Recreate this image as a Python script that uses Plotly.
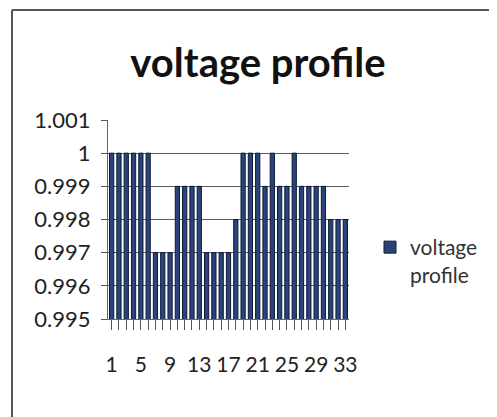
import plotly.graph_objects as go

bus = list(range(1, 34))
voltage = [1.000, 1.000, 1.000, 1.000, 1.000, 1.000,
           0.997, 0.997, 0.997,
           0.999, 0.999, 0.999, 0.999,
           0.997, 0.997, 0.997, 0.997,
           0.998,
           1.000, 1.000, 1.000,
           0.999,
           1.000,
           0.999, 0.999,
           1.000,
           0.999, 0.999, 0.999, 0.999,
           0.998, 0.998, 0.998]
x_ticktext = [str(b) if (b - 1) % 4 == 0 else "" for b in bus]
y_tickvals = [0.995, 0.996, 0.997, 0.998, 0.999, 1.000, 1.001]
y_ticktext = ["0.995", "0.996", "0.997", "0.998", "0.999", "1", "1.001"]
series_name = "voltage<br>profile"
title_text = "voltage profile"

W, H = 497, 417
OFF = 8  # default page body margin
# target plot area on screen: x 108..349, y 120..319
L = 108 - OFF
T = 120 - OFF
R = OFF + W - 349
B = OFF + H - 319
pw, ph = W - L - R, H - T - B


def px_to_paper_x(px):
    return (px - OFF - L) / pw


def px_to_paper_y(py):
    return (H - B - (py - OFF)) / ph


FONT = "Lato"

fig = go.Figure()
fig.add_trace(go.Bar(
    x=bus, y=voltage, name=series_name,
    marker=dict(color="#2a4479", line=dict(color="#0d1a3a", width=1)),
    showlegend=True,
))

fig.update_layout(
    width=W, height=H,
    margin=dict(l=L, r=R, t=T, b=B),
    paper_bgcolor="white", plot_bgcolor="white",
    bargap=0.42,
    title=dict(text="<b>" + title_text + "</b>", x=(258 - OFF) / W, xanchor="center",
               y=1 - (63 - OFF) / H, yanchor="middle",
               font=dict(family=FONT, size=40, color="#111111")),
    font=dict(family=FONT, color="#222222"),
    showlegend=True,
    legend=dict(x=px_to_paper_x(370), y=px_to_paper_y(227), xanchor="left", yanchor="top",
                font=dict(family=FONT, size=21, color="#333333"),
                bgcolor="rgba(0,0,0,0)", valign="top", itemwidth=30),
    xaxis=dict(range=[0.5, 33.5], tickmode="array", tickvals=bus, ticktext=x_ticktext,
               ticks="outside", ticklen=10, tickcolor="#555555", tickwidth=1,
               showline=True, linecolor="#666666", showgrid=False, zeroline=False,
               tickangle=0, ticklabelstandoff=17,
               tickfont=dict(family=FONT, size=21, color="#222222")),
    yaxis=dict(range=[0.995, 1.001], tickmode="array", tickvals=y_tickvals, ticktext=y_ticktext,
               ticks="outside", ticklen=6, tickcolor="#555555",
               showline=True, linecolor="#666666", showgrid=True, gridcolor="#5a5a5a",
               gridwidth=1, zeroline=False, ticklabelstandoff=6,
               tickfont=dict(family=FONT, size=22, color="#222222")),
)

# outer frame (left and top edges visible)
fig.add_shape(type="line", xref="paper", yref="paper",
              x0=px_to_paper_x(12), x1=px_to_paper_x(12),
              y0=px_to_paper_y(10), y1=px_to_paper_y(430),
              line=dict(color="#555555", width=2))
fig.add_shape(type="line", xref="paper", yref="paper",
              x0=px_to_paper_x(12), x1=px_to_paper_x(510),
              y0=px_to_paper_y(10), y1=px_to_paper_y(10),
              line=dict(color="#555555", width=2))

fig.write_html("out.html")
